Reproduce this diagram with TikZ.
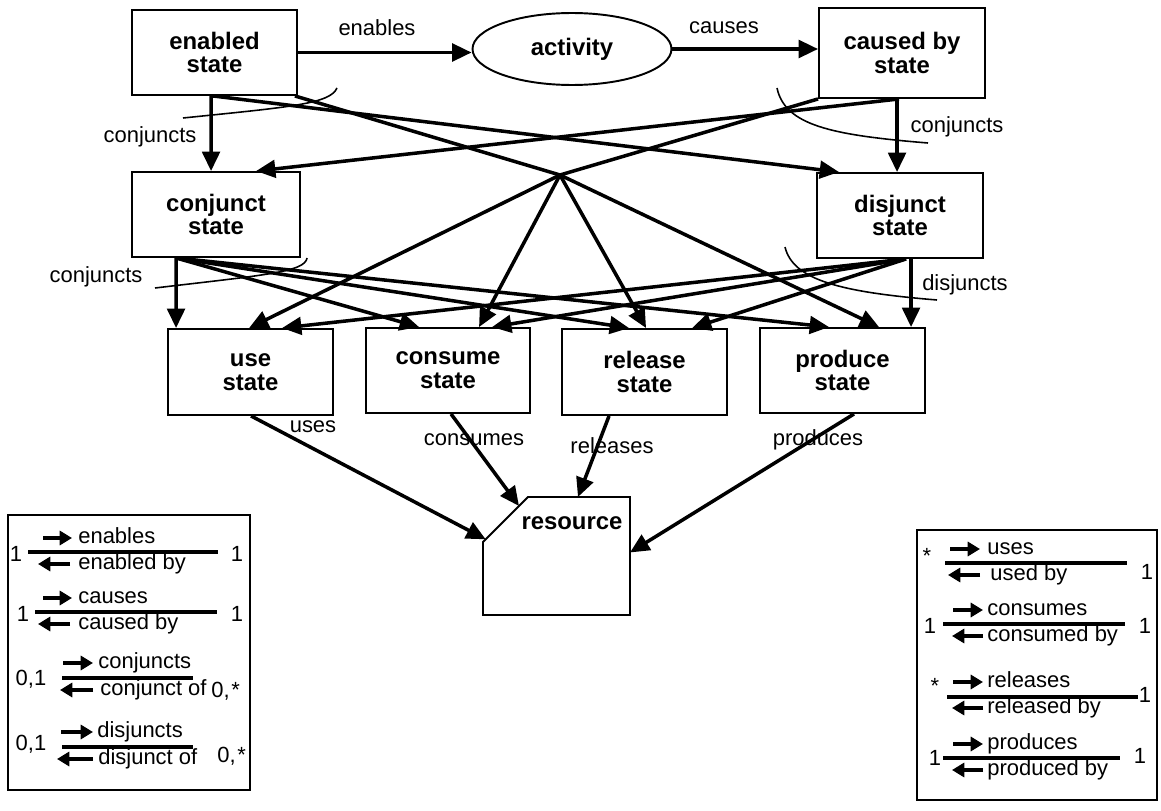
\documentclass[tikz,border=0pt]{standalone}
\usepackage{fontspec}
\setmainfont{Liberation Sans}
\usetikzlibrary{arrows.meta,calc,shapes.geometric}
\begin{document}
\begin{tikzpicture}[x=0.02cm,y=-0.02cm,
  box/.style={draw,line width=1.1pt,align=center,inner sep=0pt,
    font=\fontsize{13.6}{13.6}\selectfont\bfseries},
  conn/.style={line width=2pt,-{Triangle[length=11pt,width=10pt]}},
  link/.style={line width=2pt},
  arcl/.style={line width=0.9pt},
  lab/.style={inner sep=0pt,font=\fontsize{12.5}{14}\selectfont,text height=9pt,text depth=2.5pt},
  leg/.style={lab,anchor=west},
  legline/.style={line width=1.8pt},
  legarr/.style={line width=1.8pt,-{Triangle[length=7pt,width=8pt]}},
  legbox/.style={line width=1.3pt},
]
\useasboundingbox (0,0) rectangle (1161,811);

% ---------- nodes ----------
\node[box,minimum width=3.3cm,minimum height=1.7cm] (enabled) at (214.5,52.5) {enabled\\state};
\node[box,draw,ellipse,minimum width=3.98cm,minimum height=1.44cm] (activity) at (572,49) {activity};
\node[box,minimum width=3.32cm,minimum height=1.8cm] (caused) at (902,53) {caused by\\state};
\node[box,minimum width=3.36cm,minimum height=1.7cm] (conjunct) at (216,214.5) {conjunct\\state};
\node[box,minimum width=3.32cm,minimum height=1.7cm] (disjunct) at (900,215.5) {disjunct\\state};
\node[box,minimum width=3.3cm,minimum height=1.72cm] (use) at (250.5,372) {use\\state};
\node[box,minimum width=3.28cm,minimum height=1.7cm] (consume) at (448,370.5) {consume\\state};
\node[box,minimum width=3.3cm,minimum height=1.72cm] (release) at (644.5,372) {release\\state};
\node[box,minimum width=3.3cm,minimum height=1.7cm] (produce) at (842.5,370.5) {produce\\state};

% resource (chamfered box)
\coordinate (rTL) at (528,497);
\coordinate (rTR) at (630,497);
\coordinate (rBR) at (630,615);
\coordinate (rBL) at (483,615);
\coordinate (rCB) at (483,542);
\draw[line width=1.1pt] (rTL) -- (rTR) -- (rBR) -- (rBL) -- (rCB) -- cycle;
\node[box,draw=none] (resource) at (572,523) {resource};

\coordinate (hub) at (560,175);

% ---------- top connectors ----------
\draw[conn] (enabled.east) -- (enabled.east -| activity.west);
\draw[conn] (activity.east) -- (activity.east -| caused.west);
\node[lab] (lenables) at (377,30) {enables};
\node[lab] (lcauses) at (724,28) {causes};

\draw[conn] ($(enabled.south west)+(80,0)$) -- ($(conjunct.north west)+(80,0)$);
\draw[conn] ($(enabled.south west)+(82,0)$) -- ($(disjunct.north west)+(23,0)$);
\draw[link] ($(enabled.south east)+(-3,0)$) -- (hub);
\draw[link] (caused.south west) -- (hub);
\draw[conn] ($(caused.south west)+(81,0)$) -- ($(conjunct.north west)+(125,0)$);
\draw[conn] ($(caused.south west)+(79,0)$) -- ($(disjunct.north west)+(81,0)$);

\node[lab] (lconj1) at (150,137) {conjuncts};
\node[lab] (lconj2) at (957,127) {conjuncts};
\draw[arcl] (183,118) .. controls (290,107) and (330,104) .. (337,88);
\draw[arcl] (777,88) .. controls (785,125) and (830,135) .. (928,143);

% ---------- middle connectors ----------
\draw[conn] ($(conjunct.south west)+(45,0)$) -- ($(use.north west)+(9,0)$);
\draw[conn] ($(conjunct.south west)+(45,0)$) -- ($(consume.north west)+(54,0)$);
\draw[conn] ($(conjunct.south west)+(45,0)$) -- ($(release.north west)+(68,0)$);
\draw[conn] ($(conjunct.south west)+(45,0)$) -- ($(produce.north west)+(70,0)$);

\draw[conn] ($(disjunct.south west)+(90,0)$) -- ($(use.north west)+(115,0)$);
\draw[conn] ($(disjunct.south west)+(90,0)$) -- ($(consume.north west)+(127,0)$);
\draw[conn] ($(disjunct.south west)+(90,0)$) -- ($(release.north west)+(131,0)$);
\draw[conn] ($(disjunct.south west)+(95,0)$) -- ($(produce.north west)+(152,0)$);

\draw[conn] (hub) -- ($(use.north west)+(82,0)$);
\draw[conn] (hub) -- ($(consume.north west)+(114,0)$);
\draw[conn] (hub) -- ($(release.north west)+(85,0)$);
\draw[conn] (hub) -- ($(produce.north west)+(120,0)$);

\node[lab] (lconj3) at (96,277) {conjuncts};
\node[lab] (ldisj) at (965,285) {disjuncts};
\draw[arcl] (155,288) .. controls (265,275) and (305,272) .. (307,258);
\draw[arcl] (785,247) .. controls (793,280) and (840,292) .. (937,300);

% ---------- resource connectors ----------
\draw[conn] ($(use.south west)+(84,0)$) -- ($(rCB)!0.06!(rTL)$);
\draw[conn] ($(consume.south west)+(86,0)$) -- ($(rTL)!0.2!(rCB)$);
\draw[conn] ($(release.south west)+(48,0)$) -- ($(rTL)!0.49!(rTR)$);
\draw[conn] ($(produce.south west)+(95,0)$) -- ($(rTR)!0.47!(rBR)$);
\node[lab] (luses) at (313,427) {uses};
\node[lab] (lconsumes) at (474,440) {consumes};
\node[lab] (lreleases) at (612,448) {releases};
\node[lab] (lproduces) at (818,440) {produces};

% ---------- left legend ----------
\draw[legbox] (8,515) rectangle (250,790);
\node[lab] at (16,556) {1};
\draw[legline] (28,552) -- (218,552);
\draw[legarr] (43,538) -- (72,538);
\node[leg] at (78,538) {enables};
\draw[legarr] (70,564) -- (38,564);
\node[leg] at (78,564) {enabled by};
\node[lab] at (237,556) {1};

\node[lab] at (23,616) {1};
\draw[legline] (35,612) -- (217,612);
\draw[legarr] (43,598) -- (72,598);
\node[leg] at (78,598) {causes};
\draw[legarr] (70,624) -- (38,624);
\node[leg] at (78,624) {caused by};
\node[lab] at (237,616) {1};

\node[lab] at (31,680) {0,1};
\draw[legline] (62,678) -- (193,678);
\draw[legarr] (63,663) -- (93,663);
\node[leg] at (98,663) {conjuncts};
\draw[legarr] (93,690) -- (60,690);
\node[leg] at (100,690) {conjunct of};
\node[leg] at (211,692) {0,\kern1pt*};

\node[lab] at (31,745) {0,1};
\draw[legline] (62,747) -- (193,747);
\draw[legarr] (61,732) -- (93,732);
\node[leg] at (97,732) {disjuncts};
\draw[legarr] (93,759) -- (57,759);
\node[leg] at (98,759) {disjunct of};
\node[leg] at (217,757) {0,\kern1pt*};

% ---------- right legend ----------
\draw[legbox] (917,530) rectangle (1157,800);
\node[lab] at (927,558) {*};
\draw[legline] (945,563) -- (1127,563);
\draw[legarr] (950,549) -- (980,549);
\node[leg] at (987,549) {uses};
\draw[legarr] (980,575) -- (948,575);
\node[leg] at (990,575) {used by};
\node[lab] at (1147,574) {1};

\node[lab] at (930,628) {1};
\draw[legline] (943,624) -- (1125,624);
\draw[legarr] (953,610) -- (983,610);
\node[leg] at (987,610) {consumes};
\draw[legarr] (983,636) -- (952,636);
\node[leg] at (987,636) {consumed by};
\node[lab] at (1145,628) {1};

\node[lab] at (935,688) {*};
\draw[legline] (947,697) -- (1138,697);
\draw[legarr] (953,682) -- (983,682);
\node[leg] at (987,682) {releases};
\draw[legarr] (983,708) -- (952,708);
\node[leg] at (987,708) {released by};
\node[lab] at (1145,697) {1};

\node[lab] at (935,760) {1};
\draw[legline] (943,758) -- (1120,758);
\draw[legarr] (953,744) -- (983,744);
\node[leg] at (987,744) {produces};
\draw[legarr] (983,770) -- (952,770);
\node[leg] at (987,770) {produced by};
\node[lab] at (1140,758) {1};
\end{tikzpicture}
\end{document}
